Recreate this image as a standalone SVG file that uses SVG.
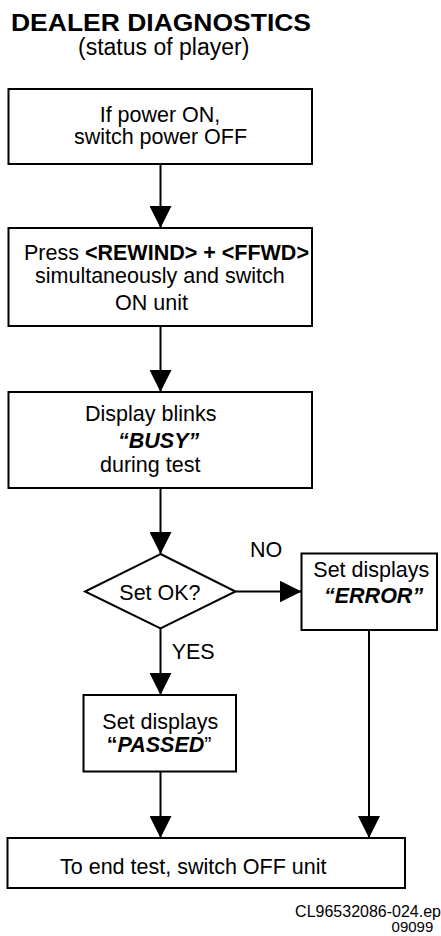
<svg xmlns="http://www.w3.org/2000/svg" width="441" height="936" viewBox="0 0 441 936">
<style>
  text { font-family: "Liberation Sans", Arial, Helvetica, sans-serif; fill: #000; }
  .t { font-size: 21.5px; }
  .b { font-weight: bold; }
  .bi { font-weight: bold; font-style: italic; }
  .box { fill: #fff; stroke: #000; stroke-width: 2; }
  .ln { fill: none; stroke: #000; stroke-width: 2; marker-end: url(#ah); }
</style>
<defs>
  <marker id="ah" markerUnits="userSpaceOnUse" markerWidth="22" markerHeight="22" refX="22" refY="11" orient="auto">
    <path d="M0,0 L22,11 L0,22 Z" fill="#000"/>
  </marker>
</defs>
<rect width="441" height="936" fill="#fff"/>

<g id="title">
  <text x="11" y="31" class="b" font-size="24" textLength="300" lengthAdjust="spacingAndGlyphs">DEALER DIAGNOSTICS</text>
  <text x="78" y="55" font-size="23">(status of player)</text>
</g>

<g id="connectors">
  <line class="ln" x1="160.5" y1="164" x2="160.5" y2="228"/>
  <line class="ln" x1="160.5" y1="326" x2="160.5" y2="392"/>
  <line class="ln" x1="160.5" y1="488" x2="160.5" y2="554"/>
  <line class="ln" x1="235.5" y1="591.5" x2="301.5" y2="591.5"/>
  <line class="ln" x1="160.5" y1="628.5" x2="160.5" y2="695"/>
  <line class="ln" x1="160.5" y1="771.5" x2="160.5" y2="838"/>
  <line class="ln" x1="369" y1="630" x2="369" y2="838"/>
  <text x="250" y="556.5" class="t">NO</text>
  <text x="171.7" y="659" class="t">YES</text>
</g>

<g id="n1">
  <rect class="box" x="8.5" y="89" width="303.5" height="75"/>
  <text x="160" y="122" class="t" text-anchor="middle">If power ON,</text>
  <text x="160.5" y="144" class="t" text-anchor="middle">switch power OFF</text>
</g>

<g id="n2">
  <rect class="box" x="8.5" y="228" width="303.5" height="98"/>
  <text x="24" y="259.5" class="t">Press <tspan class="b">&lt;REWIND&gt; + &lt;FFWD&gt;</tspan></text>
  <text x="35" y="283" class="t">simultaneously and switch</text>
  <text x="115" y="309.5" class="t">ON unit</text>
</g>

<g id="n3">
  <rect class="box" x="8.5" y="392" width="303.5" height="96"/>
  <text x="85" y="421" class="t">Display blinks</text>
  <text x="118" y="448" class="t bi">“BUSY”</text>
  <text x="100" y="472" class="t">during test</text>
</g>

<g id="n4">
  <polygon class="box" points="160.5,554 235.5,591.5 160.5,628.5 85,591.5"/>
  <text x="119.3" y="600" class="t">Set OK?</text>
</g>

<g id="n5">
  <rect class="box" x="301.5" y="553.5" width="135.5" height="76.5"/>
  <text x="313.3" y="577" class="t">Set displays</text>
  <text x="324" y="603" class="t bi">“ERROR”</text>
</g>

<g id="n6">
  <rect class="box" x="83.5" y="695" width="152.5" height="76.5"/>
  <text x="102.3" y="729" class="t">Set displays</text>
  <text x="106.7" y="752" class="t"><tspan class="b">“</tspan><tspan class="bi">PASSED</tspan>”</text>
</g>

<g id="n7">
  <rect class="box" x="7.5" y="838" width="397.5" height="50"/>
  <text x="60" y="874" class="t">To end test, switch OFF unit</text>
</g>

<g id="footer">
  <text x="441" y="916.5" font-size="16" text-anchor="end">CL96532086-024.ep</text>
  <text x="433.3" y="932" font-size="15" text-anchor="end">09099</text>
</g>
</svg>
